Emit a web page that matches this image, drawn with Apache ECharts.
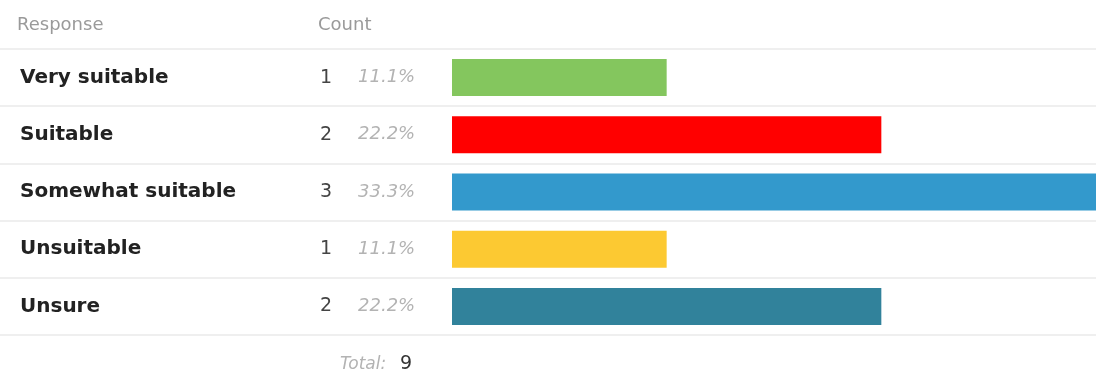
<!DOCTYPE html>
<html><head><meta charset="utf-8">
<script src="https://cdn.jsdelivr.net/npm/echarts@6/dist/echarts.min.js"></script>
<style>html,body{margin:0;padding:0;background:#fff}#c{width:1096px;height:388px}</style>
</head><body><div id="c"></div>
<script>
const categories = ['Very suitable','Suitable','Somewhat suitable','Unsuitable','Unsure'];
const counts = [1,2,3,1,2];
const colors = ['#84c65e','#ff0000','#3399cc','#fcc932','#31829b'];
const headers = ['Response','Count'];
const total = counts.reduce((a,b)=>a+b,0);
const pct = counts.map(v => (v/total*100).toFixed(1)+'%');

const FONT = 'DejaVu Sans';
const chart = echarts.init(document.getElementById('c'));
chart.setOption({
  animation:false,
  grid:[
    {left:0,right:0,top:49,height:286},
    {left:452,right:0,top:49,height:286}
  ],
  xAxis:[
    {gridIndex:0,type:'value',min:0,max:1,show:false},
    {gridIndex:1,type:'value',min:0,max:3,show:false}
  ],
  yAxis:[
    {gridIndex:0,type:'category',data:categories,inverse:true,
     axisLine:{show:false},axisTick:{show:false},
     splitLine:{show:true,lineStyle:{color:'#efefef',width:2}},
     axisLabel:{inside:true,margin:20,
       formatter:(v,i)=>'{a|'+v+'}{b|'+counts[i]+'}{c|'+pct[i]+'}',
       rich:{
         a:{fontFamily:FONT,fontWeight:'bold',fontSize:20,color:'#222',width:300},
         b:{fontFamily:FONT,fontSize:19,color:'#444',width:38},
         c:{fontFamily:FONT,fontStyle:'italic',fontSize:18,color:'#b3b3b3'}
       }}},
    {gridIndex:1,type:'category',data:categories,inverse:true,show:false}
  ],
  series:[{
    type:'bar',xAxisIndex:1,yAxisIndex:1,barWidth:37,
    data:counts.map((v,i)=>({value:v,itemStyle:{color:colors[i]}}))
  }],
  graphic:[
    {type:'text',x:17,y:25,style:{text:headers[0],font:'18px "DejaVu Sans"',fill:'#9a9a9a',verticalAlign:'middle'}},
    {type:'text',x:318,y:25,style:{text:headers[1],font:'18px "DejaVu Sans"',fill:'#9a9a9a',verticalAlign:'middle'}},
    {type:'text',x:340,y:365,style:{text:'Total:',font:'italic 17px "DejaVu Sans"',fill:'#b3b3b3',verticalAlign:'middle'}},
    {type:'text',x:400,y:364,style:{text:String(total),font:'19px "DejaVu Sans"',fill:'#333',verticalAlign:'middle'}}
  ]
});
</script></body></html>
